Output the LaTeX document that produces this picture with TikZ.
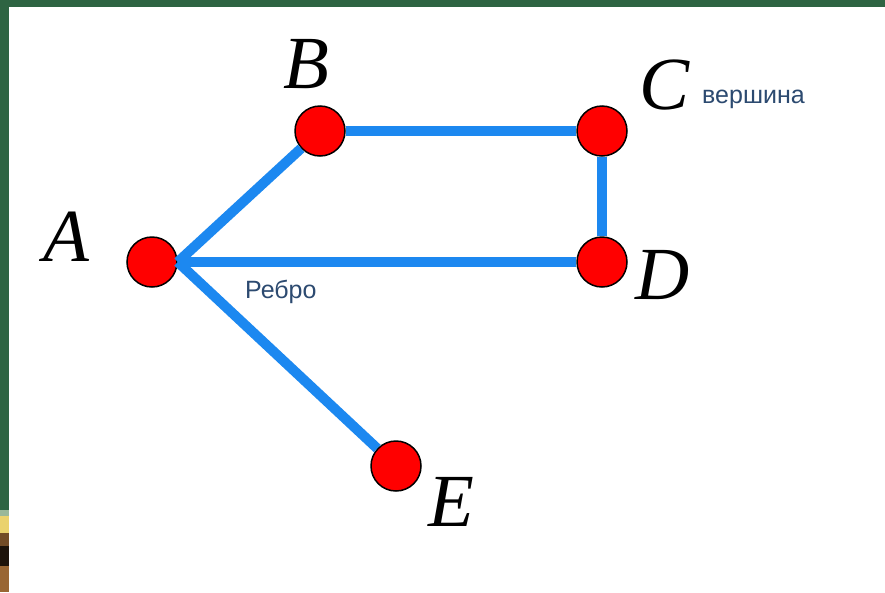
\documentclass[tikz,border=0pt]{standalone}
\usepackage{fontspec}
\usepackage{xcolor}
\newfontfamily\lblfont{Liberation Serif}
\newfontfamily\ruFont{Liberation Sans}
\definecolor{framegreen}{RGB}{46,100,66}
\definecolor{linkblue}{RGB}{28,136,240}
\definecolor{notecol}{RGB}{44,74,112}

\begin{document}
\begin{tikzpicture}
  [x=1pt,y=-1pt,every node/.style={inner sep=0pt},
   vertex/.style={circle,fill=red,draw=black,line width=1.5pt,minimum size=50pt},
   letter/.style={font=\lblfont\itshape\fontsize{75}{75}\selectfont},
   note/.style={font=\ruFont\fontsize{25}{25}\selectfont,text=notecol},
   link/.style={draw=linkblue,line width=10pt}]
  \useasboundingbox (0,0) rectangle (885,592);
  \fill[white] (0,0) rectangle (885,592);
  \fill[framegreen] (0,0) rectangle (885,7);
  \fill[framegreen] (0,0) rectangle (9,510);
  % photo strip at the bottom left
  \fill[black!70!green!40] (0,510) rectangle (9,516);
  \fill[yellow!50!brown!70!white] (0,516) rectangle (9,533);
  \fill[brown!60!black] (0,533) rectangle (9,546);
  \fill[black!85!brown] (0,546) rectangle (9,566);
  \fill[brown!80!black] (0,566) rectangle (9,592);

  \node[vertex] (A) at (152,262) {};
  \node[vertex] (B) at (320,131) {};
  \node[vertex] (C) at (602,131) {};
  \node[vertex] (D) at (602,262) {};
  \node[vertex] (E) at (396,466) {};

  \foreach \from/\to in {A.east/B,B/C,C/D,A.east/D,A.east/E}
    \draw[link] (\from) -- (\to);

  \node[letter] (lA) at (66,237) {A};
  \node[letter] (lB) at (306,64)  {B};
  \node[letter] (lC) at (665,85)  {C};
  \node[letter] (lD) at (663,275) {D};
  \node[letter] (lE) at (451,502) {E};

  \node[note,anchor=base west] (top) at (702,103) {вершина};
  \node[note,anchor=base west] (rib) at (245,298) {Ребро};
\end{tikzpicture}
\end{document}
